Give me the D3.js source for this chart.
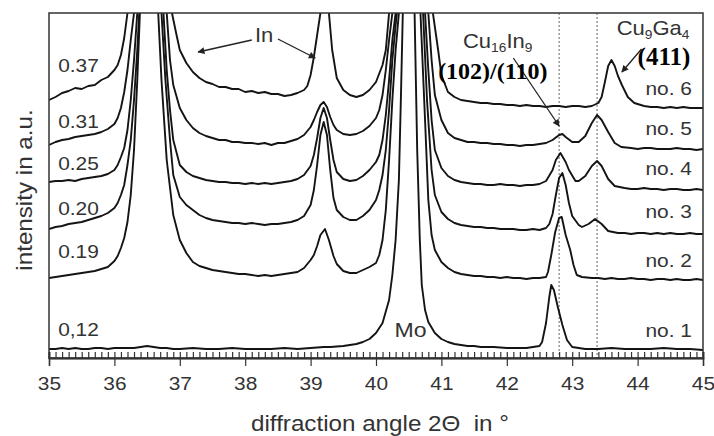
<!DOCTYPE html>
<html>
<head>
<meta charset="utf-8">
<script src="https://cdn.jsdelivr.net/npm/d3@7/dist/d3.min.js"></script>
<style>
  html, body { margin: 0; padding: 0; background: #fff; }
  svg { display: block; }
  text { font-family: "Liberation Sans", Arial, sans-serif; fill: #333; }
</style>
</head>
<body>
<svg id="chart" width="714" height="436"></svg>
<script>
// ---- Data (2θ in degrees, intensity in a.u. above baseline of the axis) ----
const majorTicks = [35, 36, 37, 38, 39, 40, 41, 42, 43, 44, 45];
const sampleRatios = ["0.37", "0.31", "0.25", "0.20", "0.19", "0,12"];
const sampleNames = ["no. 6", "no. 5", "no. 4", "no. 3", "no. 2", "no. 1"];
const refLines = [42.8, 43.38]; // Cu16In9 (102)/(110), Cu9Ga4 (411)

const curveNo6 = [
  [35.0,258],[35.1,261],[35.2,265],[35.3,267],[35.4,270],[35.5,269],[35.6,272],[35.7,273],[35.8,278],[35.9,281],
  [36.0,288],[36.05,293],[36.1,303],[36.15,320],[36.2,345],[36.3,398],[36.55,520],[36.8,398],[36.88,345],
  [36.95,323],[37.0,308],[37.1,295],[37.2,286],[37.3,280],[37.4,276],[37.5,274],[37.6,271],[37.7,271],[37.8,269],
  [37.9,269],[38.0,266],[38.1,267],[38.2,265],[38.3,266],[38.4,264],[38.5,264],[38.6,262],[38.7,263],[38.8,265],
  [38.9,268],[38.95,272],[39.0,283],[39.05,301],[39.1,323],[39.15,345],[39.22,400],[39.28,345],[39.33,308],
  [39.4,280],[39.5,268],[39.6,263],[39.7,261],[39.8,263],[39.9,268],[40.0,276],[40.1,293],[40.15,308],[40.2,345],
  [40.3,420],[40.5,600],[40.75,420],[40.87,345],[40.95,308],[41.0,283],[41.1,266],[41.2,261],[41.3,258],[41.4,257],
  [41.5,256],[41.6,255],[41.7,255],[41.8,254],[41.9,254],[42.0,253],[42.1,253],[42.2,252],[42.3,253],[42.4,252],
  [42.5,252],[42.6,251],[42.7,252],[42.8,252],[42.9,251],[43.0,252],[43.1,252],[43.2,251],[43.3,252],[43.4,255],
  [43.45,261],[43.5,276],[43.55,292],[43.6,298],[43.65,292],[43.7,282],[43.76,273],[43.85,261],[43.95,255],
  [44.1,252],[44.2,251],[44.3,251],[44.4,250],[44.5,251],[44.6,250],[44.7,251],[44.8,250],[44.9,250],[45.0,250]
];
const curveNo5 = [
  [35.0,213],[35.1,216],[35.2,218],[35.3,219],[35.4,221],[35.5,222],[35.6,223],[35.7,224],[35.8,226],[35.9,229],
  [36.0,234],[36.05,240],[36.1,250],[36.15,266],[36.2,288],[36.25,318],[36.3,345],[36.35,378],[36.55,500],
  [36.75,378],[36.8,345],[36.85,298],[36.9,273],[37.0,250],[37.1,238],[37.2,230],[37.3,225],[37.4,222],[37.5,220],
  [37.6,218],[37.7,218],[37.8,216],[37.9,216],[38.0,215],[38.1,215],[38.2,214],[38.3,215],[38.4,213],[38.5,215],
  [38.6,215],[38.7,217],[38.8,219],[38.9,223],[39.0,231],[39.05,238],[39.1,246],[39.15,253],[39.2,256],[39.25,251],
  [39.3,241],[39.35,233],[39.4,228],[39.5,224],[39.6,223],[39.7,224],[39.8,227],[39.9,232],[40.0,240],[40.05,248],
  [40.1,263],[40.15,288],[40.2,318],[40.25,345],[40.3,400],[40.5,600],[40.7,400],[40.8,345],[40.85,298],[40.9,263],
  [41.0,238],[41.1,225],[41.2,220],[41.3,218],[41.4,216],[41.5,216],[41.6,215],[41.7,215],[41.8,214],[41.9,214],
  [42.0,213],[42.1,213],[42.2,212],[42.3,213],[42.4,213],[42.5,214],[42.6,215],[42.7,218],[42.8,223],[42.85,224],
  [42.9,221],[43.0,216],[43.1,216],[43.2,222],[43.3,235],[43.38,243],[43.45,238],[43.55,226],[43.65,215],
  [43.75,211],[43.9,210],[44.0,209],[44.1,210],[44.2,210],[44.3,209],[44.4,209],[44.5,209],[44.6,210],[44.7,209],
  [44.8,209],[44.9,208],[45.0,209]
];
const curveNo4 = [
  [35.0,176],[35.1,177],[35.2,177],[35.3,178],[35.4,177],[35.5,179],[35.6,180],[35.7,181],[35.8,182],[35.9,184],
  [36.0,188],[36.05,193],[36.1,201],[36.15,210],[36.2,228],[36.25,258],[36.3,298],[36.35,345],[36.4,388],
  [36.55,500],[36.7,388],[36.75,345],[36.8,288],[36.85,248],[36.9,218],[37.0,193],[37.1,186],[37.2,182],
  [37.3,180],[37.4,178],[37.5,177],[37.6,176],[37.7,176],[37.8,175],[37.9,175],[38.0,174],[38.1,175],[38.2,174],
  [38.3,175],[38.4,174],[38.5,175],[38.6,176],[38.7,177],[38.8,179],[38.9,183],[39.0,192],[39.05,203],[39.1,220],
  [39.15,240],[39.2,250],[39.25,240],[39.3,218],[39.35,198],[39.4,186],[39.5,179],[39.6,177],[39.7,178],
  [39.8,182],[39.9,188],[40.0,196],[40.05,203],[40.1,218],[40.15,243],[40.2,278],[40.25,318],[40.3,345],
  [40.35,400],[40.5,600],[40.65,400],[40.75,345],[40.8,288],[40.85,238],[40.9,208],[41.0,190],[41.1,182],
  [41.2,178],[41.3,176],[41.4,175],[41.5,174],[41.6,174],[41.7,173],[41.8,173],[41.9,174],[42.0,173],[42.1,173],
  [42.2,172],[42.3,173],[42.4,173],[42.5,174],[42.6,177],[42.7,188],[42.75,198],[42.82,205],[42.9,196],
  [42.95,188],[43.05,177],[43.1,177],[43.2,182],[43.3,192],[43.38,197],[43.45,192],[43.55,179],[43.65,172],
  [43.8,170],[43.9,169],[44.0,169],[44.1,170],[44.2,169],[44.3,169],[44.4,168],[44.5,169],[44.6,169],[44.7,168],
  [44.8,168],[44.9,169],[45.0,168]
];
const curveNo3 = [
  [35.0,129],[35.1,131],[35.2,132],[35.3,134],[35.4,135],[35.5,136],[35.6,138],[35.7,140],[35.8,142],[35.9,145],
  [36.0,150],[36.05,155],[36.1,163],[36.15,173],[36.2,193],[36.25,218],[36.3,258],[36.35,308],[36.38,345],
  [36.45,400],[36.55,500],[36.65,400],[36.72,345],[36.78,278],[36.85,218],[36.9,183],[37.0,161],[37.1,153],
  [37.2,148],[37.3,143],[37.4,140],[37.5,138],[37.6,137],[37.7,136],[37.8,135],[37.9,135],[38.0,134],[38.1,135],
  [38.2,134],[38.3,133],[38.4,134],[38.5,134],[38.6,135],[38.7,136],[38.8,138],[38.9,142],[39.0,153],[39.05,168],
  [39.1,193],[39.15,223],[39.2,236],[39.25,223],[39.3,188],[39.35,160],[39.4,148],[39.5,141],[39.6,138],
  [39.7,138],[39.8,142],[39.9,148],[40.0,158],[40.05,168],[40.1,183],[40.15,208],[40.2,248],[40.25,298],
  [40.3,333],[40.32,345],[40.4,400],[40.5,600],[40.62,400],[40.72,345],[40.78,258],[40.85,188],[40.9,163],
  [41.0,146],[41.1,139],[41.2,135],[41.3,133],[41.4,132],[41.5,131],[41.6,131],[41.7,130],[41.8,130],[41.9,129],
  [42.0,129],[42.1,129],[42.2,128],[42.3,128],[42.4,129],[42.5,128],[42.6,130],[42.65,134],[42.7,144],
  [42.75,163],[42.8,180],[42.85,185],[42.9,173],[42.95,155],[43.0,142],[43.1,133],[43.15,131],[43.25,134],
  [43.35,139],[43.45,134],[43.55,127],[43.7,125],[43.8,125],[43.9,124],[44.0,125],[44.1,125],[44.2,124],
  [44.3,125],[44.4,124],[44.5,125],[44.6,124],[44.7,124],[44.8,125],[44.9,124],[45.0,124]
];
const curveNo2 = [
  [35.0,80],[35.1,81],[35.2,82],[35.3,83],[35.4,84],[35.5,85],[35.6,86],[35.7,87],[35.8,89],[35.9,91],
  [36.0,97],[36.05,102],[36.1,110],[36.15,120],[36.2,136],[36.25,163],[36.3,208],[36.35,278],[36.39,345],
  [36.45,400],[36.55,500],[36.63,400],[36.67,345],[36.72,278],[36.8,198],[36.9,143],[37.0,118],[37.1,105],
  [37.2,96],[37.3,92],[37.4,90],[37.5,88],[37.6,87],[37.7,86],[37.8,85],[37.9,84],[38.0,84],[38.1,83],[38.2,82],
  [38.3,83],[38.4,82],[38.5,83],[38.6,84],[38.7,85],[38.8,86],[38.9,90],[39.0,98],[39.05,103],[39.1,112],
  [39.15,123],[39.22,129],[39.28,118],[39.35,102],[39.4,94],[39.5,87],[39.6,85],[39.7,85],[39.8,88],[39.9,91],
  [40.0,95],[40.05,103],[40.1,118],[40.15,148],[40.2,198],[40.25,258],[40.3,308],[40.35,345],[40.4,400],
  [40.5,600],[40.6,400],[40.68,345],[40.75,238],[40.8,158],[40.85,123],[40.9,108],[41.0,96],[41.1,90],[41.2,86],
  [41.3,84],[41.4,83],[41.5,82],[41.6,82],[41.7,81],[41.8,81],[41.9,80],[42.0,81],[42.1,80],[42.2,80],[42.3,79],
  [42.4,80],[42.5,80],[42.6,81],[42.63,86],[42.68,103],[42.74,126],[42.8,140],[42.84,141],[42.9,123],
  [42.97,108],[43.02,93],[43.07,83],[43.15,81],[43.3,80],[43.4,80],[43.5,79],[43.6,80],[43.7,79],[43.8,79],
  [43.9,80],[44.0,79],[44.1,79],[44.2,78],[44.3,79],[44.4,79],[44.5,78],[44.6,79],[44.7,78],[44.8,78],[44.9,79],[45.0,78]
];
const curveNo1 = [
  [35.0,9],[35.1,9],[35.2,10],[35.3,9],[35.4,10],[35.5,9],[35.6,9],[35.7,10],[35.8,10],[35.9,9],[36.0,10],
  [36.1,10],[36.2,10],[36.3,10],[36.4,11],[36.5,12],[36.6,11],[36.7,10],[36.8,10],[36.9,9],[37.0,9],[37.2,10],
  [37.4,9],[37.6,9],[37.8,10],[38.0,9],[38.2,9],[38.4,9],[38.6,10],[38.8,9],[39.0,10],[39.2,11],[39.3,11],
  [39.5,12],[39.6,13],[39.7,14],[39.8,16],[39.9,19],[40.0,25],[40.1,35],[40.2,58],[40.25,83],[40.3,118],
  [40.35,178],[40.38,258],[40.41,345],[40.45,400],[40.5,500],[40.55,400],[40.59,345],[40.63,208],[40.67,118],
  [40.7,73],[40.75,48],[40.8,36],[40.9,25],[41.0,19],[41.1,16],[41.2,14],[41.3,13],[41.4,12],[41.5,12],
  [41.6,11],[41.8,11],[42.0,10],[42.2,10],[42.3,10],[42.4,11],[42.5,12],[42.54,16],[42.6,35],[42.65,61],
  [42.68,73],[42.72,68],[42.78,51],[42.85,33],[42.92,18],[43.0,11],[43.1,10],[43.2,9],[43.4,9],[43.6,10],
  [43.8,9],[44.0,9],[44.2,9],[44.4,10],[44.6,9],[44.8,9],[45.0,8]
];
const curves = [curveNo6, curveNo5, curveNo4, curveNo3, curveNo2, curveNo1];
// label anchor intensities (a.u.) for the left ratio labels and right sample names
const ratioLabelLevel = [286, 230, 188, 143, 100, 22];
const nameLabelLevel = [263, 223, 183, 140, 91, 21];

// ---- Layout ----
const svg = d3.select("#chart");
const margin = { left: 49, right: 11, top: 13, bottom: 78 };
const W = 714, H = 436;
const SX = 1.1; // horizontal stretch of the sans-serif lettering
const x = d3.scaleLinear().domain([35, 45]).range([margin.left, W - margin.right]);
const y = d3.scaleLinear().domain([0, 345]).range([H - margin.bottom, margin.top]);

const defs = svg.append("defs");
defs.append("clipPath").attr("id", "plotclip")
  .append("rect").attr("x", x(35)).attr("y", y(345))
  .attr("width", x(45) - x(35)).attr("height", y(0) - y(345));
const marker = defs.append("marker")
  .attr("id", "arrow").attr("viewBox", "0 0 10 10").attr("refX", 9).attr("refY", 5)
  .attr("markerWidth", 9).attr("markerHeight", 7).attr("markerUnits", "userSpaceOnUse")
  .attr("orient", "auto");
marker.append("path").attr("d", "M0,0 L10,5 L0,10 Z").attr("fill", "#222");

function label(px, py, txt, size, anchor, extra) {
  const t = svg.append("text")
    .attr("transform", `translate(${px},${py})${extra || ""} scale(${SX},1)`)
    .attr("text-anchor", anchor || "start").attr("font-size", size);
  if (txt !== null) t.text(txt);
  return t;
}

// dotted reference lines
svg.append("g").selectAll("line").data(refLines).join("line")
  .attr("x1", d => x(d)).attr("x2", d => x(d))
  .attr("y1", y(345)).attr("y2", y(0))
  .attr("stroke", "#666").attr("stroke-width", 1).attr("stroke-dasharray", "2,2");

// curves
const line = d3.line().x(d => x(d[0])).y(d => y(d[1])).curve(d3.curveLinear);
svg.append("g").attr("clip-path", "url(#plotclip)")
  .selectAll("path").data(curves).join("path")
  .attr("d", line).attr("fill", "none").attr("stroke", "#141414")
  .attr("stroke-width", 1.9).attr("stroke-linejoin", "round");

// frame
svg.append("rect").attr("x", x(35)).attr("y", y(345))
  .attr("width", x(45) - x(35)).attr("height", y(0) - y(345))
  .attr("fill", "none").attr("stroke", "#333").attr("stroke-width", 1.5);

// axis
const minorTicks = d3.range(350, 451).map(v => v / 10).filter(v => !majorTicks.includes(v));
const gMinor = svg.append("g").attr("transform", `translate(0,${y(0)})`)
  .call(d3.axisBottom(x).tickValues(minorTicks).tickSize(-6).tickFormat(""));
const gMajorIn = svg.append("g").attr("transform", `translate(0,${y(0)})`)
  .call(d3.axisBottom(x).tickValues(majorTicks).tickSize(-6).tickFormat(""));
const gMajor = svg.append("g").attr("transform", `translate(0,${y(0)})`)
  .call(d3.axisBottom(x).tickValues(majorTicks).tickSize(8).tickPadding(11).tickFormat(d3.format("d")));
[gMinor, gMajorIn, gMajor].forEach(g => {
  g.select(".domain").attr("stroke", "#333").attr("stroke-width", 1.5);
  g.selectAll(".tick line").attr("stroke", "#333").attr("stroke-width", 1.2);
});
gMajor.selectAll(".tick text").attr("font-size", 19).attr("fill", "#333")
  .attr("font-family", "'Liberation Sans', Arial, sans-serif")
  .attr("transform", `scale(${SX},1)`);

// axis titles
label(380, 431, "diffraction angle 2Θ  in °", 22, "middle").style("white-space", "pre");
label(32, 190, "intensity in a.u.", 22, "middle", " rotate(-90)");

// ratio labels (left) and sample names (right)
sampleRatios.forEach((d, i) => label(x(35.14), y(ratioLabelLevel[i]), d, 19, "start"));
sampleNames.forEach((d, i) => label(x(44.83), y(nameLabelLevel[i]), d, 19, "end"));

// annotations
label(x(40.53), y(21), "Mo", 21, "middle");
label(x(38.29), y(316), "In", 20, "middle");

function arrow(a0, i0, a1, i1) {
  svg.append("line").attr("x1", x(a0)).attr("y1", y(i0)).attr("x2", x(a1)).attr("y2", y(i1))
    .attr("stroke", "#222").attr("stroke-width", 1.3).attr("marker-end", "url(#arrow)");
}
arrow(38.10, 318, 37.28, 306);
arrow(38.50, 319, 39.07, 300);
arrow(42.10, 300, 42.80, 232);
arrow(44.06, 309, 43.76, 286);

const cuIn = label(x(41.33), y(310), null, 20, "start");
cuIn.append("tspan").text("Cu");
cuIn.append("tspan").attr("dy", 3.5).attr("font-size", 12.5).text("16");
cuIn.append("tspan").attr("dy", -3.5).text("In");
cuIn.append("tspan").attr("dy", 3.5).attr("font-size", 12.5).text("9");

const cuGa = label(x(43.68), y(323), null, 20, "start");
cuGa.append("tspan").text("Cu");
cuGa.append("tspan").attr("dy", 3.5).attr("font-size", 12.5).text("9");
cuGa.append("tspan").attr("dy", -3.5).text("Ga");
cuGa.append("tspan").attr("dy", 3.5).attr("font-size", 12.5).text("4");

svg.append("text").attr("x", x(40.95)).attr("y", y(279)).attr("font-size", 24)
  .style("font-family", "'Liberation Serif', 'Times New Roman', serif").style("font-weight", "bold")
  .style("fill", "#000").text("(102)/(110)");
svg.append("text").attr("x", x(44.0)).attr("y", y(293)).attr("font-size", 25)
  .style("font-family", "'Liberation Serif', 'Times New Roman', serif").style("font-weight", "bold")
  .style("fill", "#000").text("(411)");
</script>
</body>
</html>
